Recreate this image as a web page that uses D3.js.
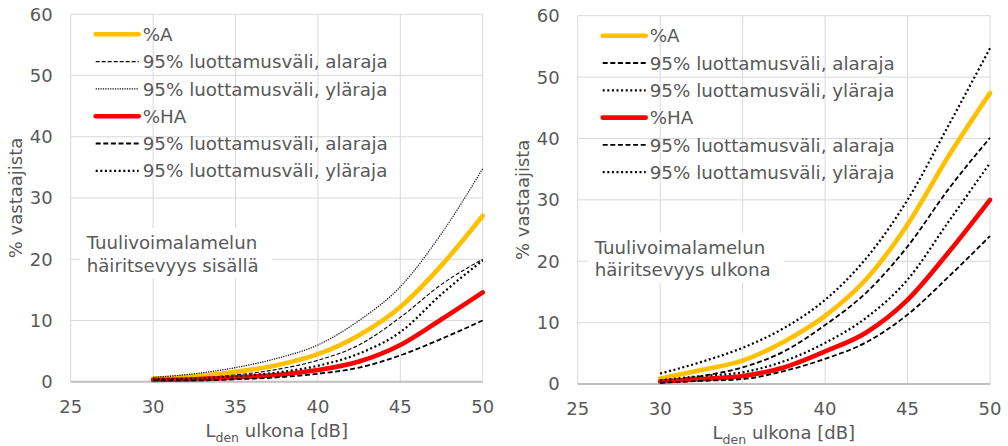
<!DOCTYPE html>
<html>
<head>
<meta charset="utf-8">
<script src="https://cdn.jsdelivr.net/npm/d3@7"></script>
<style>
  body { margin: 0; background: #fff; }
  svg { display: block; font-family: "DejaVu Sans", sans-serif; }
  .grid line { stroke: #d9d9d9; stroke-width: 1; }
  text { fill: #595959; }
</style>
</head>
<body>
<svg id="chart" width="1008" height="446"></svg>
<script>
// x values (dB) shared by both panels
var lden = [30, 32.5, 35, 37.5, 40, 42.5, 45, 47.5, 50];
var xTicks = [25, 30, 35, 40, 45, 50];
var yTicks = [0, 10, 20, 30, 40, 50, 60];

// left panel: häiritsevyys sisällä
var inA    = [0.5, 0.9, 1.6, 2.7, 4.5, 7.6, 12.2, 19.0, 27.1];
var inA_lo = [0.3, 0.6, 1.1, 2.0, 3.5, 6.0, 10.5, 15.9, 20.0];
var inA_hi = [0.7, 1.3, 2.3, 3.8, 6.0, 10.0, 15.5, 24.2, 34.8];
var inHA    = [0.3, 0.4, 0.7, 1.1, 1.9, 3.3, 6.0, 10.2, 14.6];
var inHA_lo = [0.2, 0.2, 0.4, 0.7, 1.3, 2.3, 4.3, 7.0, 10.0];
var inHA_hi = [0.4, 0.5, 0.9, 1.5, 2.6, 4.6, 8.1, 14.3, 19.8];

// right panel: häiritsevyys ulkona
var outA    = [0.9, 2.3, 3.8, 6.9, 11.1, 17.1, 26.0, 37.2, 47.4];
var outA_lo = [0.5, 1.3, 2.7, 5.3, 9.6, 14.9, 22.4, 31.8, 40.1];
var outA_hi = [1.7, 3.6, 5.9, 9.1, 13.7, 20.5, 30.0, 42.2, 54.7];
var outHA    = [0.4, 0.8, 1.3, 2.7, 5.3, 8.4, 13.7, 21.5, 30.0];
var outHA_lo = [0.2, 0.5, 0.8, 2.1, 4.1, 6.8, 11.3, 17.5, 24.1];
var outHA_hi = [0.6, 1.3, 1.9, 3.7, 6.7, 10.8, 17.0, 26.5, 36.0];

var legendLabels = ["%A", "95% luottamusväli, alaraja", "95% luottamusväli, yläraja",
                    "%HA", "95% luottamusväli, alaraja", "95% luottamusväli, yläraja"];

var svg = d3.select("#chart");

// line styles per series (legend order)
var thinDash = {color: "#000", width: 1.1, dash: "4,2"};
var thinDot  = {color: "#000", width: 1.2, dash: "1.2,1.2"};
var boldDash = {color: "#000", width: 1.8, dash: "5,2.6"};
var boldDot  = {color: "#000", width: 2.2, dash: "2,2.6"};
var yellow = {color: "#ffc000", width: 4.6, dash: null};
var red    = {color: "#ff0000", width: 4.6, dash: null};

drawPanel({x: 70.7, y: 14.3, w: 412, h: 367.4,
           series: [inA, inA_lo, inA_hi, inHA, inHA_lo, inHA_hi],
           styles: [yellow, thinDash, thinDot, red, boldDash, boldDot],
           note: ["Tuulivoimalamelun", "häiritsevyys sisällä"],
           noteBox: [9, 214, 192, 50]});

drawPanel({x: 577.7, y: 15.7, w: 412.3, h: 368.3,
           series: [outA, outA_lo, outA_hi, outHA, outHA_lo, outHA_hi],
           styles: [yellow, boldDash, boldDot, red, boldDash, boldDot],
           note: ["Tuulivoimalamelun", "häiritsevyys ulkona"],
           noteBox: [10, 217, 196, 50]});

function drawPanel(c){
    var g = svg.append("g").attr("transform", `translate(${c.x},${c.y})`);
    var x = d3.scaleLinear().domain([25, 50]).range([0, c.w]);
    var y = d3.scaleLinear().domain([0, 60]).range([c.h, 0]);

    // gridlines
    var grid = g.append("g").attr("class", "grid");
    grid.selectAll(".h").data(yTicks.slice(1)).enter().append("line")
        .attr("x1", 0).attr("x2", c.w)
        .attr("y1", d => y(d)).attr("y2", d => y(d));
    grid.selectAll(".v").data(xTicks).enter().append("line")
        .attr("x1", d => x(d)).attr("x2", d => x(d))
        .attr("y1", 0).attr("y2", c.h);

    // bottom axis line
    g.append("line").attr("x1", 0).attr("x2", c.w).attr("y1", c.h).attr("y2", c.h)
        .style("stroke", "#bfbfbf").style("stroke-width", 2);

    // annotation box (white, hides grid) + text
    var nb = c.noteBox;
    g.append("rect").attr("x", nb[0]).attr("y", nb[1]).attr("width", nb[2]).attr("height", nb[3])
        .attr("fill", "#fff");
    g.selectAll(".note").data(c.note).enter().append("text")
        .attr("x", nb[0] + 7).attr("y", (d, i) => nb[1] + 21 + i * 22.5)
        .style("font-size", "18.2px").text(d => d);

    // axes tick labels
    g.selectAll(".yt").data(yTicks).enter().append("text")
        .attr("x", -18).attr("y", d => y(d) + 6.5)
        .attr("text-anchor", "end").style("font-size", "18px").text(d => d);
    g.selectAll(".xt").data(xTicks).enter().append("text")
        .attr("x", d => x(d)).attr("y", c.h + 31)
        .attr("text-anchor", "middle").style("font-size", "18px").text(d => d);

    // axis titles
    g.append("text").attr("transform", `translate(${-49},${c.h / 2}) rotate(-90)`)
        .attr("text-anchor", "middle").style("font-size", "18px").text("% vastaajista");
    var xt = g.append("text").attr("x", c.w / 2).attr("y", c.h + 55)
        .attr("text-anchor", "middle").style("font-size", "18px");
    xt.append("tspan").text("L");
    xt.append("tspan").attr("dy", 5).style("font-size", "12.5px").text("den");
    xt.append("tspan").attr("dy", -5).text(" ulkona [dB]");

    // curves
    var line = d3.line()
        .x((d, i) => x(lden[i]))
        .y(d => y(d))
        .curve(d3.curveMonotoneX);
    c.series.forEach(function(s, k){
        var st = c.styles[k];
        g.append("path").attr("d", line(s))
            .attr("fill", "none")
            .attr("stroke", st.color)
            .attr("stroke-width", st.width)
            .attr("stroke-dasharray", st.dash)
            .attr("stroke-linecap", st.dash ? "butt" : "round")
            .attr("stroke-linejoin", "round");
    });

    // legend
    var lg = g.append("g").attr("transform", "translate(25,20)");
    legendLabels.forEach(function(lab, k){
        var st = c.styles[k];
        var row = lg.append("g").attr("transform", `translate(0,${k * 27.3})`);
        row.append("line").attr("x1", 0).attr("x2", 43).attr("y1", 0).attr("y2", 0)
            .attr("stroke", st.color).attr("stroke-width", st.width)
            .attr("stroke-dasharray", st.dash)
            .attr("stroke-linecap", st.dash ? "butt" : "round");
        row.append("text").attr("x", 47).attr("y", 6.6)
            .style("font-size", "18.3px").text(lab);
    });
}
</script>
</body>
</html>
